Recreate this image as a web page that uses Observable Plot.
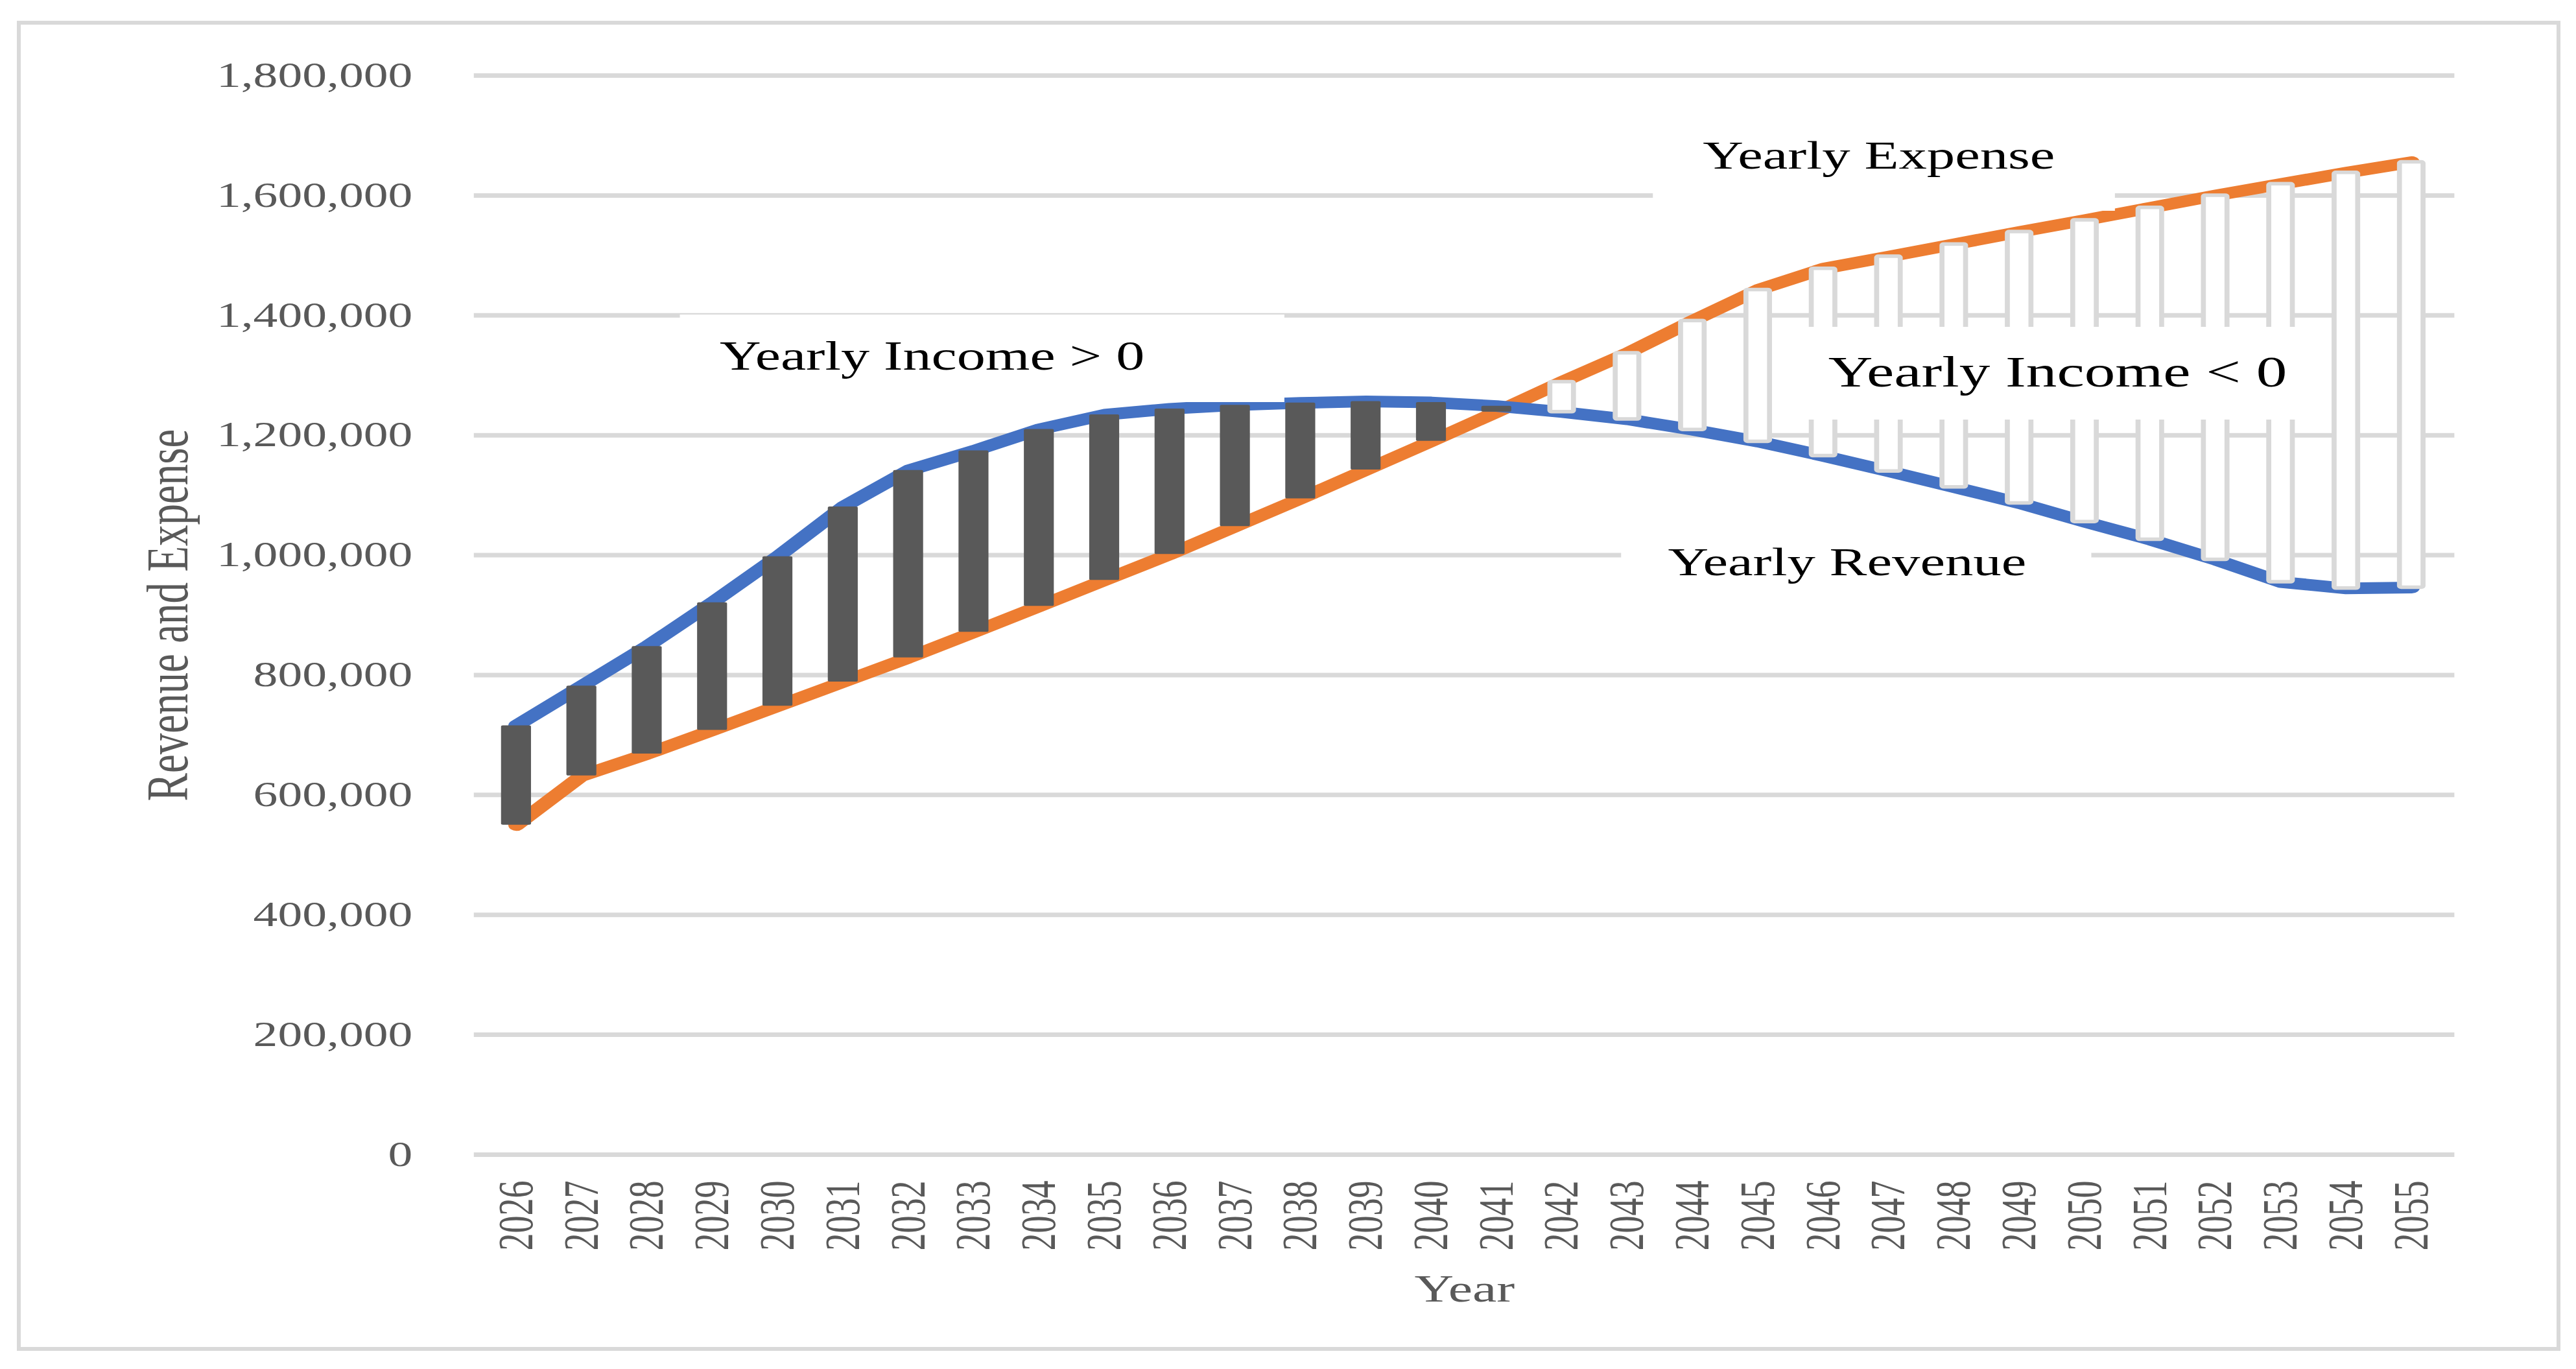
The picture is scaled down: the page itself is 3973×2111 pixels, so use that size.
<!DOCTYPE html>
<html>
<head>
<meta charset="utf-8">
<script src="https://cdn.jsdelivr.net/npm/d3@7"></script>
<script src="https://cdn.jsdelivr.net/npm/@observablehq/plot@0.6"></script>
<style>
  html, body { margin: 0; padding: 0; background: #fff; overflow: hidden; }
  #wrap { position: relative; width: 3973px; height: 2111px; }
  #border { position: absolute; left: 26px; top: 32px; width: 3923px; height: 2051px;
            box-sizing: border-box; border: 6px solid #d9d9d9; pointer-events: none; }
</style>
</head>
<body>
<div id="wrap"><div id="border"></div></div>
<script>
// ---- data ----
const years = ["2026","2027","2028","2029","2030","2031","2032","2033","2034","2035",
               "2036","2037","2038","2039","2040","2041","2042","2043","2044","2045",
               "2046","2047","2048","2049","2050","2051","2052","2053","2054","2055"];
const revenue = [715600, 781700, 847900, 920900, 997700, 1080600, 1141400, 1174100, 1209900, 1234200,
                 1244100, 1250200, 1254000, 1256300, 1254700, 1248700, 1238800, 1226600, 1209100, 1189400,
                 1165500, 1139900, 1113300, 1086700, 1055500, 1025900, 992400, 955100, 944500, 946000];
const expense = [549800, 632000, 668400, 708000, 748300, 788600, 828900, 871500, 914800, 958200,
                 1001500, 1047900, 1094300, 1142200, 1190100, 1238800, 1289000, 1336900, 1390900, 1442600,
                 1478000, 1498100, 1518600, 1539200, 1558900, 1579500, 1600000, 1619000, 1638000, 1655500];
const yTicks = [0, 200000, 400000, 600000, 800000, 1000000, 1200000, 1400000, 1600000, 1800000];
const yTitle = "Revenue and Expense";
const xTitle = "Year";
const noteTexts = ["Yearly Income > 0", "Yearly Income < 0", "Yearly Expense", "Yearly Revenue"];

// ---- layout (unstretched user units; svg is stretched horizontally) ----
const W = 2838, H = 2111, PAGE_W = 3973;
const noteLayout = [
  {box: [749, 485, 1415, 620], cx: 1027, base: 570, size: 63},
  {box: [1979, 504, 2554, 647], cx: 2267, base: 596, size: 68},
  {box: [1821, 190, 2330, 325], cx: 2070, base: 260, size: 62},
  {box: [1786, 822, 2304, 920], cx: 2035, base: 887, size: 62}
];

const rows = years.map((year, i) => ({year, revenue: revenue[i], expense: expense[i]}));
const up = rows.filter(d => d.revenue >= d.expense);
const down = rows.filter(d => d.revenue < d.expense);

function notesMark() {
  return () => {
    const g = d3.create("svg:g");
    noteTexts.forEach((t, i) => {
      const L = noteLayout[i];
      g.append("rect").attr("x", L.box[0]).attr("y", L.box[1])
        .attr("width", L.box[2] - L.box[0]).attr("height", L.box[3] - L.box[1]).attr("fill", "#fff");
      g.append("text").attr("x", L.cx).attr("y", L.base).attr("text-anchor", "middle")
        .attr("font-size", L.size).attr("fill", "#000").text(t);
    });
    return g.node();
  };
}

const svg = Plot.plot({
  width: W, height: H,
  marginLeft: 522, marginRight: 134, marginTop: 116, marginBottom: 331,
  style: {fontFamily: "'Liberation Serif', 'Times New Roman', serif", background: "#fff", color: "#595959"},
  x: {domain: years, paddingInner: 0.538, paddingOuter: 0.269, label: null},
  y: {domain: [0, 1800000], label: null},
  marks: [
    Plot.ruleY(yTicks, {stroke: "#d9d9d9", strokeWidth: 7}),
    Plot.axisY({ticks: yTicks, tickSize: 0, tickPadding: 68, tickFormat: d3.format(","), fontSize: 54, color: "#595959", label: null}),
    Plot.axisX({tickSize: 0, tickRotate: -90, tickPadding: 40, fontSize: 54, color: "#595959", label: null}),
    Plot.lineY(rows, {x: "year", y: "expense", stroke: "#ED7D31", strokeWidth: 18, strokeLinecap: "round", strokeLinejoin: "round"}),
    Plot.lineY(rows, {x: "year", y: "revenue", stroke: "#4472C4", strokeWidth: 18, strokeLinecap: "round", strokeLinejoin: "round"}),
    Plot.barY(up, {x: "year", y1: "expense", y2: "revenue", fill: "#595959", rx: 2}),
    Plot.barY(down, {x: "year", y1: "revenue", y2: "expense", fill: "#fff", stroke: "#d9d9d9", strokeWidth: 5.5, insetLeft: 3.5, insetRight: 3.5, rx: 2}),
    notesMark(),
    Plot.text([yTitle], {text: d => d, frameAnchor: "left", textAnchor: "middle", lineAnchor: "middle", rotate: -90, dx: -337, fontSize: 65, fill: "#595959"}),
    Plot.text([xTitle], {text: d => d, frameAnchor: "bottom", textAnchor: "middle", lineAnchor: "middle", dy: 207, fontSize: 60, fill: "#595959"})
  ]
});

svg.setAttribute("viewBox", `0 0 ${W} ${H}`);
svg.setAttribute("width", PAGE_W);
svg.setAttribute("height", H);
svg.setAttribute("preserveAspectRatio", "none");
svg.style.width = PAGE_W + "px";
svg.style.height = H + "px";
svg.style.maxWidth = "none";
svg.style.display = "block";
document.getElementById("wrap").insertBefore(svg, document.getElementById("border"));
</script>
</body>
</html>
